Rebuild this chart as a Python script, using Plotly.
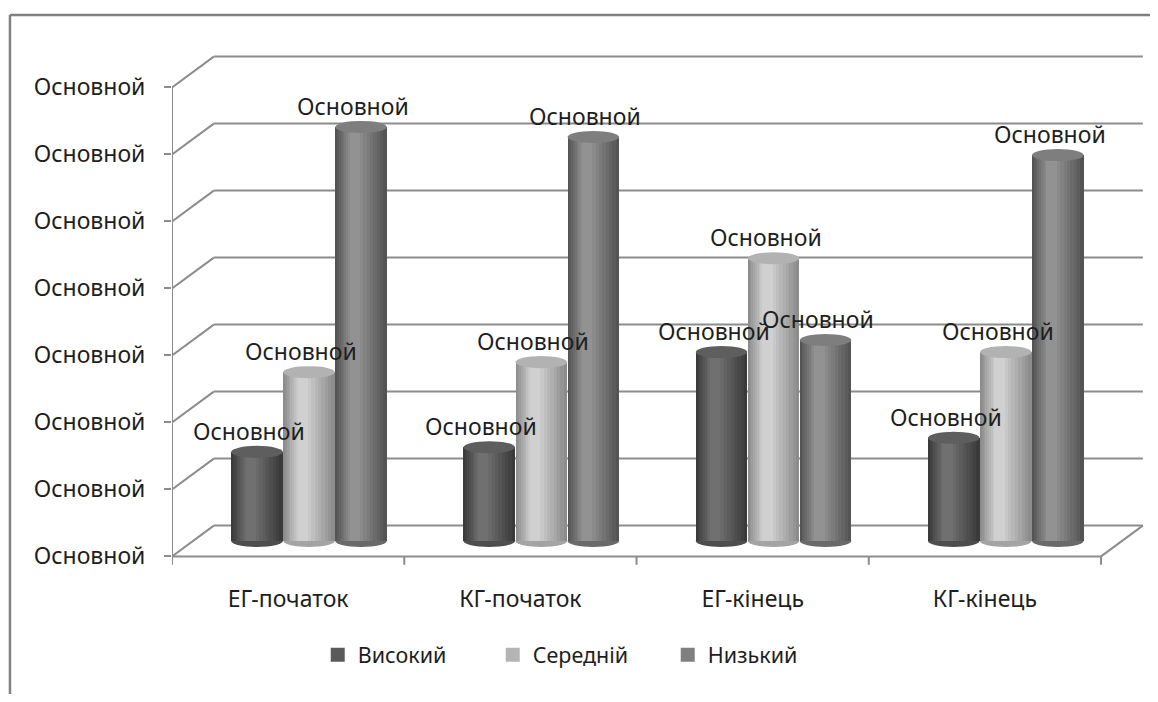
import plotly.graph_objects as go

# ---------------- data ----------------
categories = ["ЕГ-початок", "КГ-початок", "ЕГ-кінець", "КГ-кінець"]
series_names = ["Високий", "Середній", "Низький"]
vysokyi = [13.3, 14.0, 28.2, 15.4]
serednii = [25.2, 26.7, 42.2, 28.2]
nyzkyi = [61.8, 60.3, 30.0, 57.6]
tick_values = [0, 10, 20, 30, 40, 50, 60, 70]
tick_label = "Основной"
data_label = "Основной"

# ---------------- styling ----------------
series_values = [vysokyi, serednii, nyzkyi]
legend_colors = ["#5a5a5a", "#b4b4b4", "#808080"]
edge_colors = [(58, 58, 58), (140, 140, 140), (84, 84, 84)]
light_colors = [(112, 112, 112), (208, 208, 208), (146, 146, 146)]
lid_colors = ["#5e5e5e", "#b2b2b2", "#7e7e7e"]

FONT = "Noto Sans"
TXT = "#1e1e1e"
LINE = "#8c8c8c"
DEPTH_X = 0.09    # horizontal depth offset (category units)
DEPTH_Y = 2.3     # vertical depth offset (value units)
PITCH = 0.224     # distance between cylinders in a group
CYL_W = 0.222     # cylinder width
LID_H = 0.9       # half-height of elliptical lids (value units)


def rgb(c):
    return "rgb(%d,%d,%d)" % c


def mix(a, b, t):
    return tuple(int(round(a[i] + (b[i] - a[i]) * t)) for i in range(3))


fig = go.Figure()
shapes = []
annotations = []

n_cat = len(categories)
x_front_left = -0.5 - DEPTH_X
x_back_left = -0.5 + DEPTH_X
x_front_right = n_cat - 0.5 - DEPTH_X
x_back_right = n_cat - 0.5 + DEPTH_X

# walls / gridlines
for t in tick_values:
    shapes.append(dict(type="line", xref="x", yref="y", layer="below",
                       x0=x_front_left, y0=t - DEPTH_Y, x1=x_back_left, y1=t + DEPTH_Y,
                       line=dict(color=LINE, width=2)))
    shapes.append(dict(type="line", xref="x", yref="y", layer="below",
                       x0=x_back_left, y0=t + DEPTH_Y, x1=x_back_right, y1=t + DEPTH_Y,
                       line=dict(color=LINE, width=2)))
# front y axis line
shapes.append(dict(type="line", xref="x", yref="y", layer="below",
                   x0=x_front_left, y0=tick_values[0] - DEPTH_Y,
                   x1=x_front_left, y1=tick_values[-1] - DEPTH_Y,
                   line=dict(color=LINE, width=2)))
# floor front edge and right edge
shapes.append(dict(type="line", xref="x", yref="y", layer="below",
                   x0=x_front_left, y0=-DEPTH_Y, x1=x_front_right, y1=-DEPTH_Y,
                   line=dict(color=LINE, width=2)))
shapes.append(dict(type="line", xref="x", yref="y", layer="below",
                   x0=x_front_right, y0=-DEPTH_Y, x1=x_back_right, y1=DEPTH_Y,
                   line=dict(color=LINE, width=2)))
# x tick marks on the floor front edge
for i in range(n_cat + 1):
    xb = i - 0.5 - DEPTH_X
    shapes.append(dict(type="line", xref="x", yref="y", layer="below",
                       x0=xb, y0=-DEPTH_Y, x1=xb, y1=-DEPTH_Y - 1.25,
                       line=dict(color=LINE, width=2)))

# cylinders (layered bars give a soft cylindrical shading)
n_layers = 9
layer_fracs = [1.0 - 0.1 * k for k in range(n_layers)]
layer_shift = [-0.12 * (k / (n_layers - 1)) for k in range(n_layers)]
layer_mix = [k / (n_layers - 1) for k in range(n_layers)]

for s, (name, vals) in enumerate(zip(series_names, series_values)):
    xs = [c + (s - 1) * PITCH for c in range(n_cat)]
    for fr, sh, mx in zip(layer_fracs, layer_shift, layer_mix):
        col = rgb(mix(edge_colors[s], light_colors[s], mx))
        fig.add_trace(go.Bar(
            x=[x + sh * CYL_W for x in xs], y=vals, width=CYL_W * fr,
            marker=dict(color=col, line=dict(width=0)),
            showlegend=False, hoverinfo="skip"))
    # legend entry (square marker)
    fig.add_trace(go.Scatter(x=[None], y=[None], name=name, mode="markers",
                             marker=dict(symbol="square", size=14, color=legend_colors[s]),
                             showlegend=True))
    for x, v in zip(xs, vals):
        shapes.append(dict(type="circle", xref="x", yref="y", layer="below",
                           x0=x - CYL_W / 2, x1=x + CYL_W / 2, y0=-LID_H, y1=LID_H,
                           fillcolor=rgb(mix(edge_colors[s], light_colors[s], 0.35)),
                           line=dict(width=0)))
        shapes.append(dict(type="circle", xref="x", yref="y", layer="above",
                           x0=x - CYL_W / 2, x1=x + CYL_W / 2, y0=v - LID_H, y1=v + LID_H,
                           fillcolor=lid_colors[s], line=dict(width=0)))
        annotations.append(dict(x=x, y=v, xref="x", yref="y", text=data_label,
                                showarrow=False, xanchor="center", yanchor="middle",
                                xshift=-8, yshift=21,
                                font=dict(family=FONT, size=23, color=TXT)))

# outer chart border (left and top)
shapes.append(dict(type="line", xref="paper", yref="paper", layer="above",
                   x0=-0.1667, y0=1.0575, x1=1.02, y1=1.0575,
                   line=dict(color="#808080", width=2.5)))
shapes.append(dict(type="line", xref="paper", yref="paper", layer="above",
                   x0=-0.1667, y0=1.0575, x1=-0.1667, y1=-0.27,
                   line=dict(color="#808080", width=2.5)))

fig.update_layout(
    width=1142, height=686, autosize=False,
    margin=dict(l=164, r=6, t=37, b=127),
    plot_bgcolor="white", paper_bgcolor="white",
    barmode="overlay", bargap=0,
    font=dict(family=FONT, size=22, color=TXT),
    shapes=shapes, annotations=annotations,
    showlegend=True,
    legend=dict(orientation="h", x=0.42, xanchor="center", y=-0.168, yanchor="middle",
                font=dict(family=FONT, size=21.5, color=TXT),
                traceorder="normal", entrywidth=130, itemclick=False),
    xaxis=dict(range=[-0.59, 3.595], showgrid=False, zeroline=False, showline=False,
               tickvals=[i - DEPTH_X for i in range(n_cat)], ticktext=categories,
               ticks="", ticklabelstandoff=16,
               tickfont=dict(family=FONT, size=23, color=TXT)),
    yaxis=dict(range=[-3.88, 74.03], showgrid=False, zeroline=False, showline=False,
               tickvals=[t - DEPTH_Y for t in tick_values],
               ticktext=[tick_label] * len(tick_values),
               ticks="outside", ticklen=7, tickwidth=2, tickcolor=LINE,
               ticklabelstandoff=14,
               tickfont=dict(family=FONT, size=23, color=TXT)),
)

fig.write_html("out.html")
